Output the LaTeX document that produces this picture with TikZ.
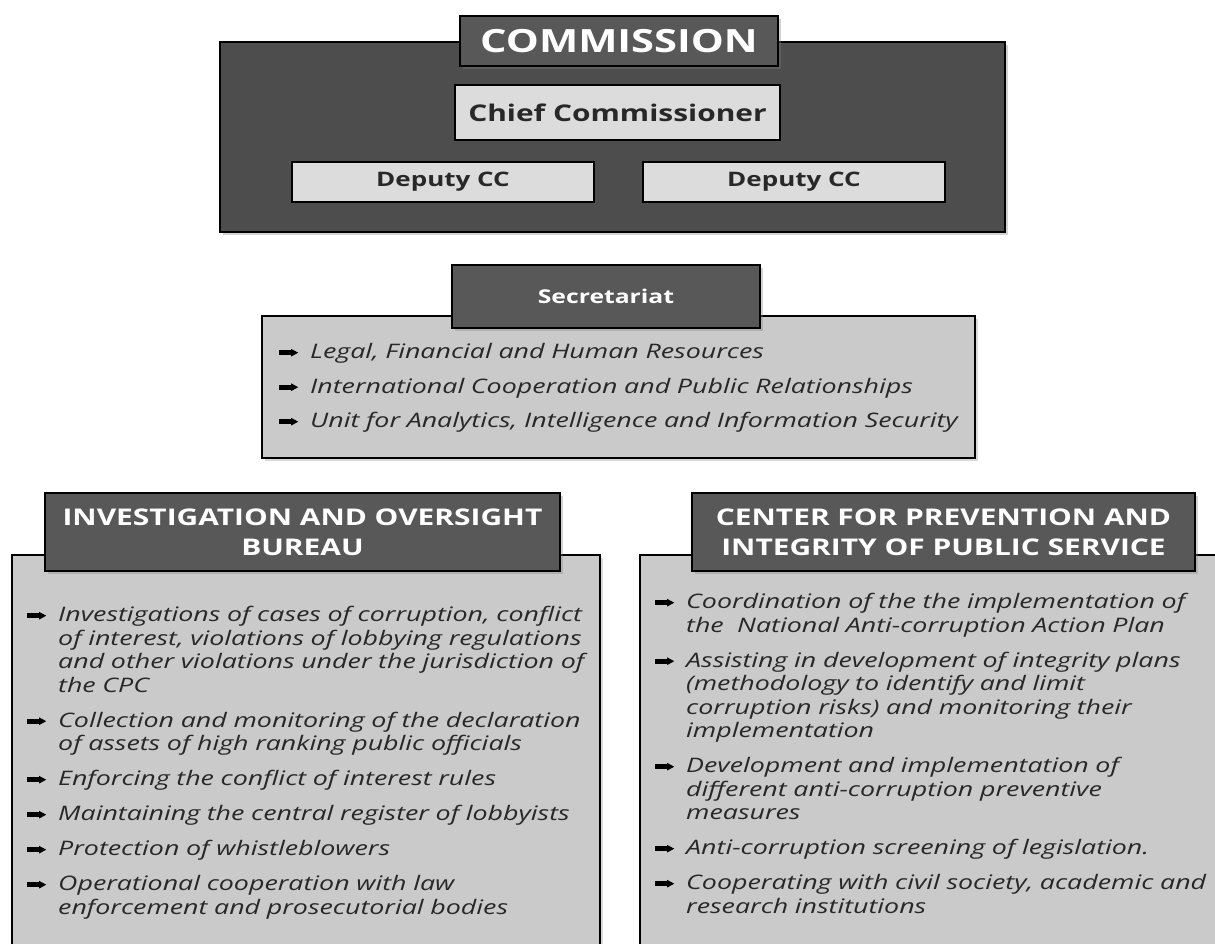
\documentclass[tikz,border=0pt]{standalone}
\usepackage{fontspec}
\setmainfont{Open Sans}[FakeStretch=1.3]
\newfontfamily\listfont{Open Sans}[FakeStretch=1.34]
\usepackage{xcolor}
\usepackage{tikz}
\usetikzlibrary{shadows}
\definecolor{orgdark}{RGB}{77, 77, 77}
\definecolor{orgtitle}{RGB}{88, 88, 88}
\definecolor{orglight}{RGB}{220, 220, 220}
\definecolor{orgbody}{RGB}{202, 202, 202}
\definecolor{orgtext}{RGB}{40, 40, 40}

% fat arrow bullet
\newcommand{\bul}{\tikz[x=1pt, y=1pt, baseline=-6pt]{\fill[black] (0,-2.4) rectangle (13,2.4); \fill[black] (12,-3.8) -- (19,0) -- (12,3.8) -- cycle;}}
\newcommand{\itm}[1]{\par\hangindent=31pt\hangafter=1\noindent\makebox[31pt][l]{\bul}#1\par}

\tikzset{
  outerbox/.style={draw=black, line width=2pt, fill=orgdark, drop shadow={opacity=0.35}},
  titlebox/.style={draw=black, line width=1.5pt, fill=orgtitle, text=white, font=\bfseries, align=center, drop shadow={opacity=0.35}},
  unitbox/.style={draw=black, line width=1.2pt, fill=orglight, text=orgtext, font=\bfseries},
  bodybox/.style={draw=black, line width=1.5pt, fill=orgbody, drop shadow={opacity=0.3}},
  itemlist/.style={anchor=north west, inner sep=0pt, align=left, text=orgtext,
    font=\listfont\itshape\fontsize{20}{23.5}\selectfont}
}

\begin{document}
\begin{tikzpicture}[x=1pt, y=-1pt]
\useasboundingbox (0,0) rectangle (1215,943);
\clip (0,0) rectangle (1215,943);

% Commission
\node[outerbox, minimum width=785pt, minimum height=190pt] (commission) at (612.5,137) {};
\node[titlebox, minimum width=318pt, minimum height=50pt, font=\bfseries\fontsize{32}{36}\selectfont] (commtitle) at (619,41) {COMMISSION};
\node[unitbox, minimum width=325pt, minimum height=55pt, font=\bfseries\fontsize{23}{26}\selectfont] (chief) at (617.5,112.5) {Chief Commissioner};
\node[unitbox, minimum width=302pt, minimum height=40pt, font=\bfseries\fontsize{20}{22}\selectfont] (deputyl) at (443,182) {Deputy CC};
\node[unitbox, minimum width=302pt, minimum height=40pt, font=\bfseries\fontsize{20}{22}\selectfont] (deputyr) at (794,182) {Deputy CC};

% Secretariat
\node[bodybox, minimum width=713pt, minimum height=142pt] (secbody) at (618.5,387) {};
\node[titlebox, minimum width=308pt, minimum height=63pt, font=\bfseries\fontsize{19}{24}\selectfont] (sectitle) at (606,296.5) {Secretariat};
\node[itemlist, text width=700pt] (secitems) at (279,335) {%
  \itm{Legal, Financial and Human Resources}\vspace{11pt}
  \itm{International Cooperation and Public Relationships}\vspace{11pt}
  \itm{Unit for Analytics, Intelligence and Information Security}};

% Investigation and oversight bureau
\node[bodybox, minimum width=588pt, minimum height=400pt] (invbody) at (306,755) {};
\node[titlebox, minimum width=515pt, minimum height=78pt, font=\bfseries\fontsize{23}{30}\selectfont] (invtitle) at (302.5,532) {INVESTIGATION AND OVERSIGHT\\BUREAU};
\node[itemlist, text width=600pt] (invitems) at (27,598) {%
  \itm{Investigations of cases of corruption, conflict\newline of interest, violations of lobbying regulations\newline and other violations under the jurisdiction of\newline the CPC}\vspace{11.5pt}
  \itm{Collection and monitoring of the declaration\newline of assets of high ranking public officials}\vspace{11.5pt}
  \itm{Enforcing the conflict of interest rules}\vspace{11.5pt}
  \itm{Maintaining the central register of lobbyists}\vspace{11.5pt}
  \itm{Protection of whistleblowers}\vspace{11.5pt}
  \itm{Operational cooperation with law\newline enforcement and prosecutorial bodies}};

% Center for prevention and integrity
\node[bodybox, minimum width=600pt, minimum height=400pt] (cpibody) at (940,755) {};
\node[titlebox, minimum width=503pt, minimum height=78pt, font=\bfseries\fontsize{23}{30}\selectfont] (cpititle) at (943.5,532) {CENTER FOR PREVENTION AND\\INTEGRITY OF PUBLIC SERVICE};
\node[itemlist, text width=600pt] (cpiitems) at (655,585) {%
  \itm{Coordination of the the implementation of\newline the \ National Anti-corruption Action Plan}\vspace{11.5pt}
  \itm{Assisting in development of integrity plans\newline (methodology to identify and limit\newline corruption risks) and monitoring their\newline implementation}\vspace{11.5pt}
  \itm{Development and implementation of\newline different anti-corruption preventive\newline measures}\vspace{11.5pt}
  \itm{Anti-corruption screening of legislation.}\vspace{11.5pt}
  \itm{Cooperating with civil society, academic and\newline research institutions}};
\end{tikzpicture}
\end{document}
